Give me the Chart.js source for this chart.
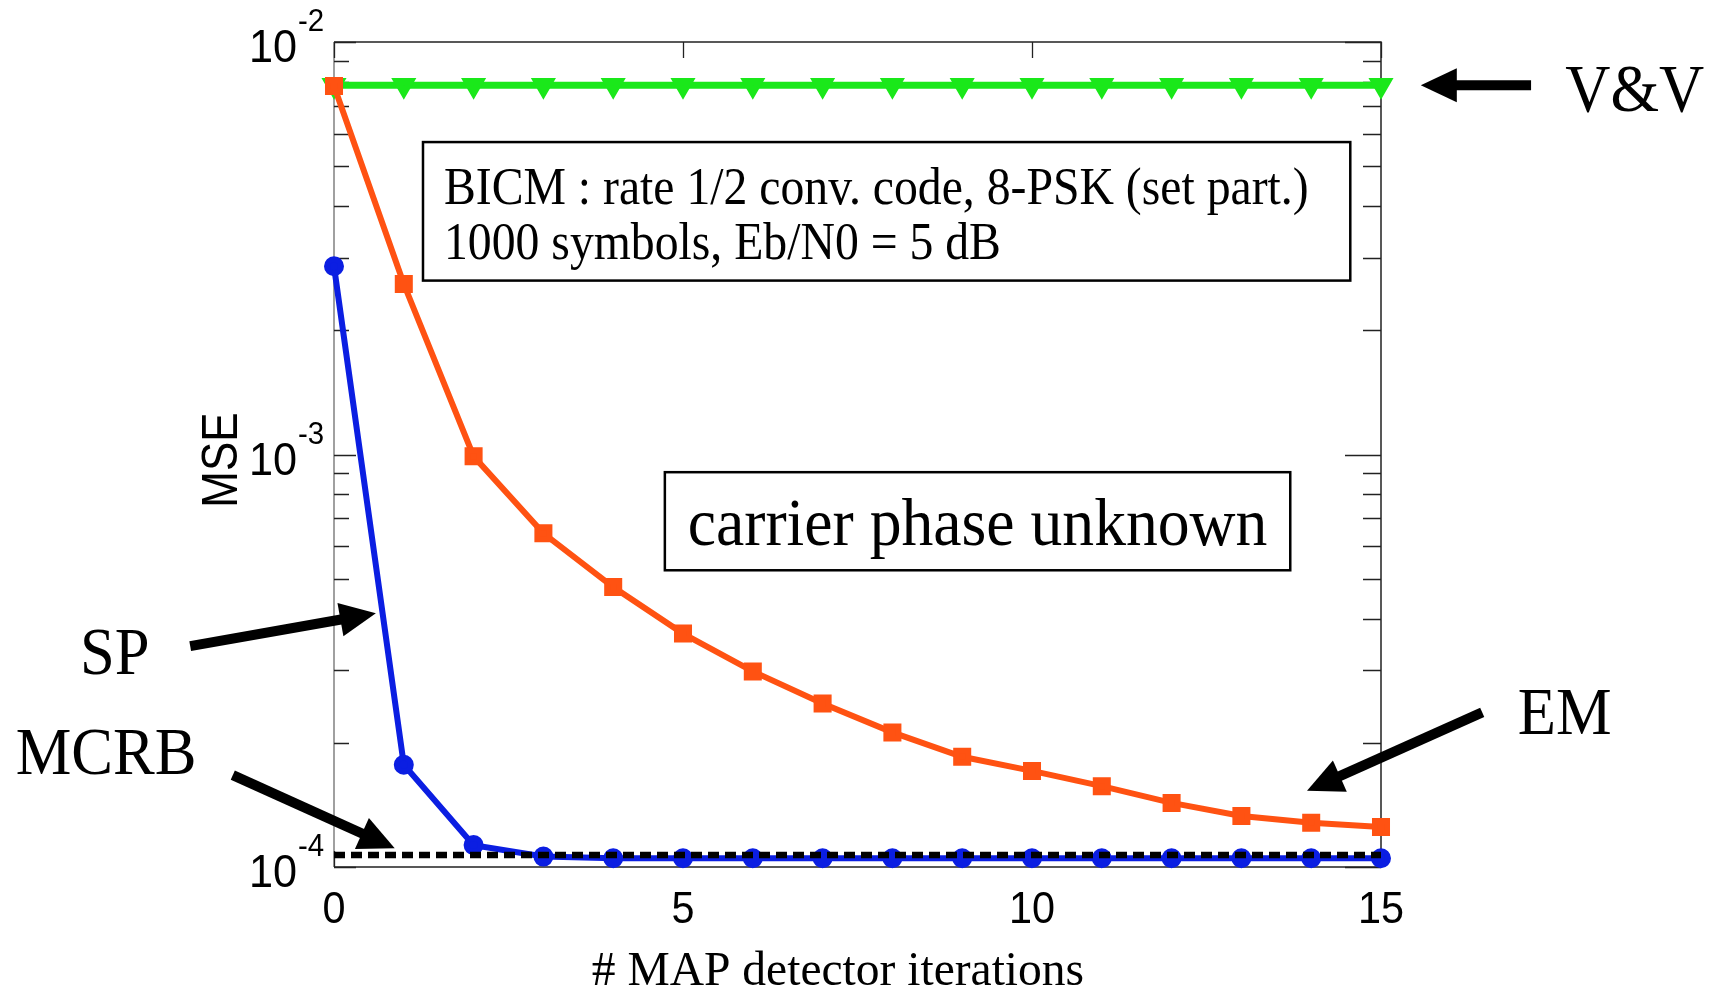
<!DOCTYPE html>
<html>
<head>
<meta charset="utf-8">
<title>MSE vs MAP detector iterations</title>
<script src="https://cdn.jsdelivr.net/npm/chart.js@4.4.1/dist/chart.umd.min.js"></script>
<style>
  html, body { margin: 0; padding: 0; background: #fff; }
  #wrap { width: 1718px; height: 997px; position: relative; }
</style>
</head>
<body>
<div id="wrap"><canvas id="mse"></canvas></div>
<script>
// MSE of the carrier phase estimate vs. number of MAP detector iterations
const iterations = [0, 1, 2, 3, 4, 5, 6, 7, 8, 9, 10, 11, 12, 13, 14, 15];
const mseVV   = [7.86e-3, 7.86e-3, 7.86e-3, 7.86e-3, 7.86e-3, 7.86e-3, 7.86e-3, 7.86e-3,
                 7.86e-3, 7.86e-3, 7.86e-3, 7.86e-3, 7.86e-3, 7.86e-3, 7.86e-3, 7.86e-3];
const mseEM   = [7.82e-3, 2.59e-3, 9.9e-4, 6.44e-4, 4.77e-4, 3.68e-4, 2.98e-4, 2.49e-4,
                 2.12e-4, 1.85e-4, 1.71e-4, 1.57e-4, 1.43e-4, 1.33e-4, 1.28e-4, 1.25e-4];
const mseSP   = [2.86e-3, 1.77e-4, 1.13e-4, 1.06e-4, 1.05e-4, 1.05e-4, 1.05e-4, 1.05e-4,
                 1.05e-4, 1.05e-4, 1.05e-4, 1.05e-4, 1.05e-4, 1.05e-4, 1.05e-4, 1.05e-4];
const mseMCRB = [1.07e-4, 1.07e-4, 1.07e-4, 1.07e-4, 1.07e-4, 1.07e-4, 1.07e-4, 1.07e-4,
                 1.07e-4, 1.07e-4, 1.07e-4, 1.07e-4, 1.07e-4, 1.07e-4, 1.07e-4, 1.07e-4];

const xTicks = [0, 5, 10, 15];
const yDecades = [1e-4, 1e-3, 1e-2];
const yDecadeLabels = ['-4', '-3', '-2'];

const xTitle = '# MAP detector iterations';
const yTitle = 'MSE';

// annotations, placed in data units (x = iteration, y = MSE)
const arrows = [
  { from: [17.15, 7.86e-3], to: [15.57, 7.86e-3] },
  { from: [-2.06, 3.43e-4], to: [0.60, 4.12e-4] },
  { from: [-1.45, 1.67e-4], to: [0.87, 1.11e-4] },
  { from: [16.45, 2.37e-4], to: [13.94, 1.53e-4] },
];
const curveLabels = [
  { text: 'V&V',  at: [17.64, 6.80e-3] },
  { text: 'SP',   at: [-3.64, 2.94e-4] },
  { text: 'MCRB', at: [-4.56, 1.676e-4] },
  { text: 'EM',   at: [16.96, 2.10e-4] },
];
const infoLines = ['BICM : rate 1/2 conv. code, 8-PSK (set part.)', '1000 symbols, Eb/N0 = 5 dB'];
const infoBox = { x: [1.275, 14.56], y: [5.72e-3, 2.64e-3], textX: 1.576, baselines: [4.05e-3, 2.98e-3] };
const phaseText = 'carrier phase unknown';
const phaseBox = { x: [4.74, 13.70], y: [9.06e-4, 5.24e-4], textX: 9.22, baseline: 6.02e-4 };

const SERIF = '"Liberation Serif", "Times New Roman", serif';
const SANS = '"Liberation Sans", Arial, sans-serif';

function drawText(ctx, str, x, y, font, align, sx) {
  ctx.save();
  ctx.translate(x, y);
  ctx.scale(sx, 1);
  ctx.font = font;
  ctx.textAlign = align;
  ctx.textBaseline = 'alphabetic';
  ctx.fillStyle = '#000';
  ctx.fillText(str, 0, 0);
  ctx.restore();
}

function drawArrow(ctx, x0, y0, x1, y1) {
  const a = Math.atan2(y1 - y0, x1 - x0);
  const len = 36, half = 17;
  const bx = x1 - len * Math.cos(a), by = y1 - len * Math.sin(a);
  ctx.save();
  ctx.strokeStyle = '#000';
  ctx.lineWidth = 10;
  ctx.beginPath();
  ctx.moveTo(x0, y0);
  ctx.lineTo(bx + 2 * Math.cos(a), by + 2 * Math.sin(a));
  ctx.stroke();
  ctx.beginPath();
  ctx.moveTo(x1, y1);
  ctx.lineTo(bx + half * Math.sin(a), by - half * Math.cos(a));
  ctx.lineTo(bx - half * Math.sin(a), by + half * Math.cos(a));
  ctx.closePath();
  ctx.fillStyle = '#000';
  ctx.fill();
  ctx.restore();
}

// axes box with matlab-style inward ticks
const frame = {
  id: 'frame',
  beforeDatasetsDraw(chart) {
    const { ctx, chartArea: a, scales: { x, y } } = chart;
    ctx.save();
    ctx.lineWidth = 1.5;
    ctx.strokeStyle = '#222';
    ctx.beginPath();
    ctx.moveTo(a.left, a.top); ctx.lineTo(a.right, a.top);
    ctx.lineTo(a.right, a.bottom); ctx.lineTo(a.left, a.bottom);
    ctx.stroke();
    ctx.strokeStyle = '#808080';
    ctx.beginPath();
    ctx.moveTo(a.left, a.top); ctx.lineTo(a.left, a.bottom);
    ctx.stroke();

    ctx.strokeStyle = '#222';
    ctx.lineWidth = 1.3;
    ctx.beginPath();
    yDecades.forEach((d, i) => {
      for (let m = 1; m <= 9; m++) {
        const v = d * m;
        if (v > y.max * 1.0001 || (i === yDecades.length - 1 && m > 1)) continue;
        const py = Math.round(y.getPixelForValue(v)) + 0.5;
        const major = m === 1;
        ctx.moveTo(a.left, py); ctx.lineTo(a.left + (major ? 22 : 15), py);
        ctx.moveTo(a.right, py); ctx.lineTo(a.right - (major ? 36 : 18), py);
      }
    });
    xTicks.forEach(t => {
      const px = Math.round(x.getPixelForValue(t)) + 0.5;
      ctx.moveTo(px, a.top); ctx.lineTo(px, a.top + 16);
      ctx.moveTo(px, a.bottom); ctx.lineTo(px, a.bottom - 16);
    });
    ctx.stroke();
    ctx.restore();
  },
  afterDraw(chart) {
    const { ctx, chartArea: a, scales: { x, y } } = chart;
    const P = (pt) => [x.getPixelForValue(pt[0]), y.getPixelForValue(pt[1])];

    // tick labels
    xTicks.forEach(t => {
      drawText(ctx, String(t), x.getPixelForValue(t), a.bottom + 56, '44px ' + SANS, 'center', 0.94);
    });
    yDecades.forEach((d, i) => {
      const py = y.getPixelForValue(d);
      drawText(ctx, '10', a.left - 37, py + 20, '47px ' + SANS, 'right', 0.92);
      drawText(ctx, yDecadeLabels[i], a.left - 36, py - 11, '32px ' + SANS, 'left', 0.92);
    });

    // axis titles
    drawText(ctx, xTitle, x.getPixelForValue(7.22), 985, '48px ' + SERIF, 'center', 0.99);
    ctx.save();
    ctx.translate(237, 460);
    ctx.rotate(-Math.PI / 2);
    drawText(ctx, yTitle, 0, 0, '50px ' + SANS, 'center', 0.88);
    ctx.restore();

    // text boxes
    ctx.save();
    ctx.lineWidth = 2.5;
    ctx.strokeStyle = '#000';
    [infoBox, phaseBox].forEach(b => {
      const [x0, y0] = P([b.x[0], b.y[0]]);
      const [x1, y1] = P([b.x[1], b.y[1]]);
      ctx.fillStyle = '#fff';
      ctx.fillRect(x0, y0, x1 - x0, y1 - y0);
      ctx.strokeRect(x0, y0, x1 - x0, y1 - y0);
    });
    ctx.restore();
    infoLines.forEach((line, i) => {
      const [tx, ty] = P([infoBox.textX, infoBox.baselines[i]]);
      drawText(ctx, line, tx, ty, '53px ' + SERIF, 'left', 0.9);
    });
    const [px, py] = P([phaseBox.textX, phaseBox.baseline]);
    drawText(ctx, phaseText, px, py, '67px ' + SERIF, 'center', 0.95);

    // curve labels and arrows
    arrows.forEach(ar => {
      const [x0, y0] = P(ar.from);
      const [x1, y1] = P(ar.to);
      drawArrow(ctx, x0, y0, x1, y1);
    });
    curveLabels.forEach(l => {
      const [lx, ly] = P(l.at);
      drawText(ctx, l.text, lx, ly, '68px ' + SERIF, 'left', 0.92);
    });
  }
};

const pts = (vals) => iterations.map((it, i) => ({ x: it, y: vals[i] }));

new Chart(document.getElementById('mse'), {
  type: 'line',
  data: {
    datasets: [
      {
        label: 'EM', data: pts(mseEM), borderColor: '#ff5212', backgroundColor: '#ff5212',
        borderWidth: 6, pointStyle: 'rect', pointRadius: 8.5, clip: false
      },
      {
        label: 'MCRB', data: pts(mseMCRB), borderColor: '#000', borderWidth: 6.5,
        borderDash: [11, 6], pointRadius: 0, clip: false
      },
      {
        label: 'SP', data: pts(mseSP), borderColor: '#0b1ee2', backgroundColor: '#0b1ee2',
        borderWidth: 6, pointStyle: 'circle', pointRadius: 7, clip: false
      },
      {
        label: 'V&V', data: pts(mseVV), borderColor: '#1ae81a', backgroundColor: '#1ae81a',
        borderWidth: 7, pointStyle: 'triangle', rotation: 180, pointRadius: 7.5, clip: false
      }
    ]
  },
  options: {
    responsive: true,
    maintainAspectRatio: false,
    animation: false,
    devicePixelRatio: 1,
    layout: { padding: { left: 334, top: 42, right: 337, bottom: 130 } },
    elements: { line: { tension: 0 } },
    scales: {
      x: { type: 'linear', min: 0, max: 15, display: false },
      y: { type: 'logarithmic', min: 1e-4, max: 1e-2, display: false }
    },
    plugins: { legend: { display: false }, tooltip: { enabled: false } }
  },
  plugins: [frame]
});
</script>
</body>
</html>
